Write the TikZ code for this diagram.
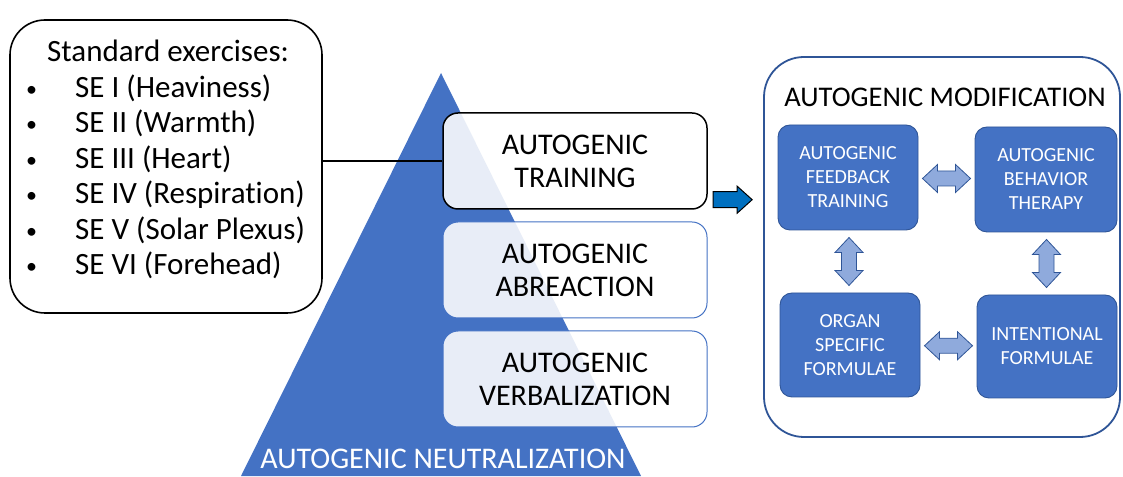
\documentclass[tikz,border=0pt]{standalone}
\usepackage{fontspec}
\setmainfont[Ligatures=NoCommon]{Carlito}
\usetikzlibrary{calc}
\definecolor{ob}{HTML}{4472C4}
\definecolor{dkb}{HTML}{2F5597}
\definecolor{lb}{HTML}{8FAADC}
\definecolor{arrb}{HTML}{0070C0}
\newcommand{\mybul}{\llap{\raisebox{1pt}{\fontsize{22}{22}\selectfont\textbullet}\hspace{38pt}}}
\begin{document}
\begin{tikzpicture}[x=1pt,y=1pt,
  midbox/.style={rounded corners=15pt, minimum width=264pt, minimum height=96pt,
    fill=white, fill opacity=0.88, text opacity=1, align=center, inner sep=0pt,
    font=\fontsize{30}{33}\selectfont},
  innerbox/.style={draw=dkb, line width=0.9pt, fill=ob, rounded corners=12pt,
    minimum width=140pt, minimum height=105pt, text=white, align=center,
    inner sep=0pt, font=\fontsize{20}{24}\selectfont},
  bigtxt/.style={inner sep=0pt, font=\fontsize{31}{36}\selectfont},
  darr/.style={fill=lb, draw=dkb, line width=0.8pt, line join=miter},
  hdarr/.pic={\filldraw[darr] (-24,0) -- (-9,14) -- (-9,7.5) -- (9,7.5) -- (9,14)
     -- (24,0) -- (9,-14) -- (9,-7.5) -- (-9,-7.5) -- (-9,-14) -- cycle;},
  blockarr/.pic={\filldraw[fill=arrb, draw=black, line width=1pt, line join=miter]
     (-19.5,-8) -- (4.5,-8) -- (4.5,-13.5) -- (19.5,0) -- (4.5,13.5) -- (4.5,8)
     -- (-19.5,8) -- cycle;}
]
\useasboundingbox (0,0) rectangle (1123,476);
% triangle
\fill[ob] (441,403) -- (241,0) -- (641,0) -- cycle;
% left box
\node[draw, line width=1.6pt, rounded corners=35pt, fill=white,
  minimum width=312pt, minimum height=293pt, inner sep=0pt] (lbox) at (166,309.5) {};
\node[bigtxt, anchor=base west] (l0) at (47,414) {Standard exercises:};
\node[bigtxt, anchor=base west] (l1) at (75,378.5) {\mybul SE I (Heaviness)};
\node[bigtxt, anchor=base west] (l2) at (75,343) {\mybul SE II (Warmth)};
\node[bigtxt, anchor=base west] (l3) at (75,307.5) {\mybul SE III (Heart)};
\node[bigtxt, anchor=base west] (l4) at (75,272) {\mybul SE IV (Respiration)};
\node[bigtxt, anchor=base west] (l5) at (75,236.5) {\mybul SE V (Solar Plexus)};
\node[bigtxt, anchor=base west] (l6) at (75,201) {\mybul SE VI (Forehead)};
% middle boxes
\node[midbox, draw=black, line width=1.5pt] (train) at (575,315) {AUTOGENIC\\TRAINING};
\node[midbox, draw=ob, line width=1pt] (abre) at (575,206) {AUTOGENIC\\ABREACTION};
\node[midbox, draw=ob, line width=1pt] (verb) at (575,97) {AUTOGENIC\\VERBALIZATION};
\draw[line width=1.5pt] (train.west) -- (train.west -| lbox.east);
% bottom label
\node[inner sep=0pt, font=\fontsize{30}{36}\selectfont, text=white, anchor=base] (neut) at (443,8) {AUTOGENIC NEUTRALIZATION};
% right panel
\node[draw=dkb, line width=1.8pt, rounded corners=40pt, minimum width=356pt,
  minimum height=380pt, inner sep=0pt] (panel) at (942,229) {};
\node[inner sep=0pt, font=\fontsize{28.5}{32}\selectfont] (title) at (945,379) {AUTOGENIC MODIFICATION};
\node[innerbox] (aft) at (848,298.5) {AUTOGENIC\\FEEDBACK\\TRAINING};
\node[innerbox, minimum width=142pt] (abt) at (1046,296.5) {AUTOGENIC\\BEHAVIOR\\THERAPY};
\node[innerbox, minimum height=104pt] (osf) at (850,131) {ORGAN\\SPECIFIC\\FORMULAE};
\node[innerbox, minimum height=103pt] (inf) at (1047,129.5) {INTENTIONAL\\FORMULAE};
% arrows
\pic at ($(train.east)!0.45!(panel.west)$) {blockarr};
\pic at ($(aft.east)!0.5!(abt.west)$) {hdarr};
\pic at ($(osf.east)!0.5!(inf.west)$) {hdarr};
\pic[rotate=90] at ($(aft.south)!0.5!(osf.north)$) {hdarr};
\pic[rotate=90] at ($(abt.south)!0.5!(inf.north)$) {hdarr};
\end{tikzpicture}
\end{document}
